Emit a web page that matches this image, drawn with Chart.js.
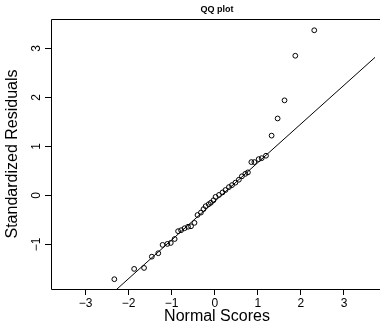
<!DOCTYPE html>
<html>
<head>
<meta charset="utf-8">
<script src="https://cdn.jsdelivr.net/npm/chart.js@4/dist/chart.umd.min.js"></script>
<style>
  html, body { margin: 0; padding: 0; background: #fff; }
  #wrap { width: 380px; height: 328px; }
</style>
</head>
<body>
<div id="wrap"><canvas id="qqChart" width="380" height="328"></canvas></div>
<script>
// data
var normalScores = [-2.33, -1.87, -1.64, -1.46, -1.31, -1.21, -1.10, -1.02, -0.93, -0.85,
  -0.78, -0.70, -0.62, -0.55, -0.47, -0.40, -0.32, -0.26, -0.21, -0.14,
  -0.09, -0.03, 0.02, 0.10, 0.18, 0.25, 0.33, 0.40, 0.48, 0.56,
  0.63, 0.71, 0.77, 0.85, 0.92, 1.02, 1.09, 1.19, 1.32, 1.46,
  1.62, 1.87, 2.31];
var stdResiduals = [-1.71, -1.50, -1.48, -1.25, -1.18, -1.01, -0.99, -0.97, -0.89, -0.73,
  -0.71, -0.67, -0.64, -0.63, -0.56, -0.40, -0.35, -0.28, -0.22, -0.18,
  -0.15, -0.10, -0.03, 0.01, 0.06, 0.11, 0.17, 0.21, 0.26, 0.32,
  0.39, 0.44, 0.47, 0.68, 0.68, 0.74, 0.76, 0.81, 1.22, 1.57,
  1.94, 2.85, 3.37];

// reference line end points
var fitX = [-3.8, 3.8];
var fitY = [-3.12, 2.88];

var xTicks = [-3, -2, -1, 0, 1, 2, 3];
var yTicks = [-1, 0, 1, 2, 3];

var FONT = '"Liberation Sans", Arial, Helvetica, sans-serif';

function minus(v) {
    return String(v).replace('-', '\u2212');
}

var points = normalScores.map(function(x, i) { return { x: x, y: stdResiduals[i] }; });
var fitLine = fitX.map(function(x, i) { return { x: x, y: fitY[i] }; });

// box, title, y labels and axis titles in R style
var rStyle = {
    id: 'rStyle',
    afterDraw: function(chart) {
        var c = chart.ctx;
        var a = chart.chartArea;
        var ys = chart.scales.y;
        c.save();
        c.strokeStyle = '#000';
        c.lineWidth = 1;
        c.beginPath();
        c.moveTo(a.right + 5, a.top + 0.5);
        c.lineTo(a.left + 0.5, a.top + 0.5);
        c.lineTo(a.left + 0.5, a.bottom + 0.5);
        c.lineTo(a.right + 5, a.bottom + 0.5);
        c.stroke();

        c.fillStyle = '#000';
        c.textAlign = 'center';
        c.textBaseline = 'middle';

        c.font = 'bold 9px ' + FONT;
        c.fillText('QQ plot', 217, 10);

        c.font = '16px ' + FONT;
        c.fillText('Normal Scores', 217, 317);

        // y tick labels, rotated like R
        c.font = '12px ' + FONT;
        yTicks.forEach(function(v) {
            c.save();
            c.translate(37, ys.getPixelForValue(v));
            c.rotate(-Math.PI / 2);
            c.fillText(minus(v), 0, 0);
            c.restore();
        });

        c.font = '16px ' + FONT;
        c.translate(13, (a.top + a.bottom) / 2);
        c.rotate(-Math.PI / 2);
        c.fillText('Standardized Residuals', 0, 0);
        c.restore();
    }
};

var ctx = document.getElementById('qqChart').getContext('2d');
var qqChart = new Chart(ctx, {
    type: 'scatter',
    data: {
        datasets: [{
            label: 'residuals',
            data: points,
            pointStyle: 'circle',
            pointRadius: 2.4,
            pointBorderWidth: 1,
            pointBorderColor: '#000',
            pointBackgroundColor: 'rgba(0,0,0,0)'
        }, {
            type: 'line',
            label: 'fit',
            data: fitLine,
            borderColor: '#000',
            borderWidth: 1,
            pointRadius: 0,
            fill: false
        }]
    },
    options: {
        responsive: false,
        animation: false,
        devicePixelRatio: 1,
        layout: { padding: { top: 19, right: 0, left: 0, bottom: 0 } },
        plugins: {
            legend: { display: false },
            tooltip: { enabled: false },
            title: { display: false }
        },
        scales: {
            x: {
                type: 'linear',
                min: -3.8,
                max: 3.72,
                afterBuildTicks: function(scale) {
                    scale.ticks = xTicks.map(function(v) { return { value: v }; });
                },
                afterFit: function(scale) { scale.height = 39; },
                grid: {
                    drawOnChartArea: false,
                    drawTicks: true,
                    tickLength: 6,
                    color: '#000'
                },
                border: { display: false },
                ticks: {
                    color: '#000',
                    font: { family: FONT, size: 12 },
                    padding: 1,
                    maxRotation: 0,
                    autoSkip: false,
                    callback: function(v) { return minus(v); }
                }
            },
            y: {
                type: 'linear',
                min: -1.91,
                max: 3.6,
                afterBuildTicks: function(scale) {
                    scale.ticks = yTicks.map(function(v) { return { value: v }; });
                },
                afterFit: function(scale) { scale.width = 51; },
                grid: {
                    drawOnChartArea: false,
                    drawTicks: true,
                    tickLength: 6,
                    color: '#000'
                },
                border: { display: false },
                ticks: { display: false }
            }
        }
    },
    plugins: [rStyle]
});
</script>
</body>
</html>
